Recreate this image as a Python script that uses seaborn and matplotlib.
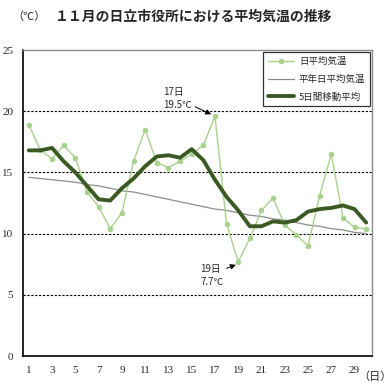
import matplotlib
matplotlib.use('Agg')
import matplotlib.pyplot as plt
import pandas as pd
import seaborn as sns

days = list(range(1, 31))
daily_mean = [18.9, 16.8, 16.1, 17.2, 16.2, 13.4, 12.2, 10.4, 11.7, 15.9,
              18.5, 15.8, 15.4, 15.9, 16.5, 17.2, 19.6, 10.8, 7.7, 9.6,
              11.9, 12.9, 10.7, 9.9, 9.0, 13.1, 16.5, 11.3, 10.5, 10.4]
normal_mean = [14.6, 14.5, 14.4, 14.3, 14.2, 14.0, 13.9, 13.7, 13.5, 13.4,
               13.2, 13.0, 12.8, 12.6, 12.4, 12.2, 12.0, 11.9, 11.7, 11.5,
               11.4, 11.2, 11.1, 10.9, 10.7, 10.6, 10.4, 10.3, 10.1, 10.0]
moving_avg = [16.8, 16.8, 17.0, 15.9, 15.0, 13.9, 12.8, 12.7, 13.7, 14.5,
              15.5, 16.3, 16.4, 16.2, 16.9, 16.0, 14.4, 13.0, 11.9, 10.6,
              10.6, 11.0, 10.9, 11.1, 11.8, 12.0, 12.1, 12.3, 12.0, 10.9]
labels = ['日平均気温', '平年日平均気温', '5日間移動平均']
y_ticks = [0, 5, 10, 15, 20, 25]

df = pd.DataFrame({'day': days, 'daily': daily_mean,
                   'normal': normal_mean, 'ma': moving_avg})

sns.set_style('white')
plt.rcParams['font.family'] = ['Noto Sans CJK JP', 'DejaVu Sans']

fig = plt.figure(figsize=(3.9, 3.9), dpi=100)
ax = fig.add_axes([23 / 390, 34 / 390, 349 / 390, 306 / 390])

sns.lineplot(data=df, x='day', y='daily', ax=ax, color='#a9d18e', linewidth=1.0,
             marker='o', markersize=4, markeredgewidth=0, label=labels[0], zorder=3)
sns.lineplot(data=df, x='day', y='normal', ax=ax, color='#8c8c8c', linewidth=0.9,
             label=labels[1], zorder=2)
sns.lineplot(data=df, x='day', y='ma', ax=ax, color='#3b5a23', linewidth=2.8,
             label=labels[2], zorder=4)

ax.set_xlim(0.5, 30.5)
ax.set_ylim(0, 25)
ax.set_xlabel('')
ax.set_ylabel('')

# grid lines
for v in y_ticks[1:-1]:
    ax.axhline(v, color='black', linestyle=(0, (2, 1.5)), linewidth=0.8, zorder=1)

# x ticks: marks at category boundaries, labels at odd days
ax.set_xticks([d + 0.5 for d in days[:-1]])
ax.set_xticklabels([])
ax.tick_params(axis='x', which='major', direction='in', length=3, width=0.8, color='black')
ax.set_xticks([d for d in days if d % 2 == 1], minor=True)
ax.set_xticklabels([str(d) for d in days if d % 2 == 1], minor=True,
                   family='Liberation Serif', fontsize=8)
ax.tick_params(axis='x', which='minor', length=0, pad=7)

ax.set_yticks(y_ticks)
ax.set_yticklabels([str(v) for v in y_ticks], family='Liberation Serif', fontsize=8)
ax.tick_params(axis='y', length=0, pad=7)

for s in ['left', 'bottom']:
    ax.spines[s].set_color('black')
    ax.spines[s].set_linewidth(1.2)
for s in ['top', 'right']:
    ax.spines[s].set_color('#8c8c8c')
    ax.spines[s].set_linewidth(1.0)

leg = ax.legend(loc='upper right', fontsize=6.8, frameon=True, fancybox=False,
                edgecolor='black', borderaxespad=0.2, handlelength=2.8,
                handletextpad=0.5, labelspacing=0.9, borderpad=0.5)
leg.get_frame().set_linewidth(0.9)

# annotations
ax.annotate('17日\n19.5℃', xy=(17, 19.6), xytext=(12.55, 20.1),
            fontsize=7, ha='left', va='bottom', linespacing=1.4,
            arrowprops=dict(arrowstyle='-|>', color='black', lw=0.7,
                            shrinkA=0, shrinkB=3, mutation_scale=8))
ax.annotate('19日\n7.7℃', xy=(18.8, 7.45), xytext=(15.72, 5.6),
            fontsize=7, ha='left', va='bottom', linespacing=1.4,
            arrowprops=dict(arrowstyle='-|>', color='black', lw=0.7,
                            shrinkA=0, shrinkB=0, mutation_scale=8,
                            relpos=(0.85, 0.72)))

fig.text(12 / 390, 1 - 17 / 390, '（℃）', fontsize=8, va='center', ha='left')
fig.text(55 / 390, 1 - 17 / 390, '１１月の日立市役所における平均気温の推移',
         fontsize=10, fontweight='bold', va='center', ha='left')
fig.text(358 / 390, 1 - 377 / 390, '（日）', fontsize=8, va='center', ha='left')

fig.savefig('out.png', dpi=100)
